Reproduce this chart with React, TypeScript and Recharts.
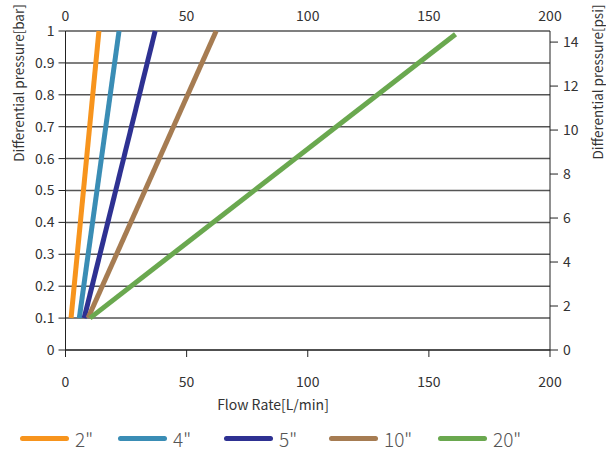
import React from 'react';
import { LineChart, Line, XAxis, YAxis, CartesianGrid, Legend } from 'recharts';

// filter sizes and their colours
const sizes = ['2"', '4"', '5"', '10"', '20"'];
const colors = ['#F7941D', '#3A8DB5', '#2E3192', '#A67C52', '#6AA84F'];

// flow rate [L/min] at start / end of each line
const flowStart = [2.3, 5.7, 7.7, 9.3, 10.1];
const flowEnd = [13.8, 22.1, 37, 62.2, 161];

// differential pressure [bar] at start / end
const pressureStart = [0.1, 0.1, 0.1, 0.1, 0.1];
const pressureEnd = [1, 1, 1, 1, 0.99];

const flowTicks = [0, 50, 100, 150, 200];
const barTicks = [0, 0.1, 0.2, 0.3, 0.4, 0.5, 0.6, 0.7, 0.8, 0.9, 1];
const psiTicks = [0, 2, 4, 6, 8, 10, 12, 14];

const PSI_PER_BAR = 14.5038;
const FONT = '"Noto Sans CJK SC", "Noto Sans", sans-serif';
const TEXT = '#333';

const seriesData = sizes.map((s, i) => [
  { flow: flowStart[i], bar: pressureStart[i], psi: pressureStart[i] * PSI_PER_BAR },
  { flow: flowEnd[i], bar: pressureEnd[i], psi: pressureEnd[i] * PSI_PER_BAR },
]);

const legendLeft = [20, 118, 224, 329, 438];

const renderLegend = () => (
  <div style={{ position: 'relative', width: 606, height: 30, fontFamily: FONT }}>
    {sizes.map((s, i) => (
      <div key={s} style={{ position: 'absolute', left: legendLeft[i], top: 0, height: 30, display: 'flex', alignItems: 'center' }}>
        <span style={{ display: 'inline-block', width: 49, height: 5, borderRadius: 3, background: colors[i], marginRight: 6 }} />
        <span style={{ fontSize: 19, color: '#555', fontWeight: 300 }}>{s}</span>
      </div>
    ))}
  </div>
);

const tickStyle = { fontSize: 14, fill: TEXT, fontFamily: FONT };

const App = () => {
  return (
    <div style={{ position: 'absolute', left: 0, top: 0, background: '#fff' }}>
      <LineChart width={606} height={456} margin={{ top: 0, right: 0, bottom: 0, left: 0 }}>
        <CartesianGrid vertical={false} stroke="#555" strokeWidth={1.5} yAxisId="bar" xAxisId="bottom" />
        <XAxis
          xAxisId="bottom"
          type="number"
          dataKey="flow"
          domain={[0, 200]}
          ticks={flowTicks}
          height={76}
          tickSize={7}
          tickMargin={20}
          stroke="#222"
          tick={tickStyle}
          label={{
            content: () => (
              <text x={273} y={410} textAnchor="middle" fontSize={14} fill={TEXT} fontFamily={FONT}>
                Flow Rate[L/min]
              </text>
            ),
          }}
        />
        <XAxis
          xAxisId="top"
          orientation="top"
          type="number"
          dataKey="flow"
          domain={[0, 200]}
          ticks={flowTicks}
          height={31}
          axisLine={false}
          tickLine={false}
          tickSize={0}
          tickMargin={10}
          tick={tickStyle}
        />
        <YAxis
          yAxisId="bar"
          type="number"
          dataKey="bar"
          domain={[0, 1]}
          ticks={barTicks}
          width={65.5}
          tickSize={7}
          tickMargin={4}
          stroke="#222"
          tick={tickStyle}
          label={{
            content: () => (
              <text x={24} y={83} transform="rotate(-90 24 83)" textAnchor="middle" fontSize={13.5} fill={TEXT} fontFamily={FONT}>
                Differential pressure[bar]
              </text>
            ),
          }}
        />
        <YAxis
          yAxisId="psi"
          orientation="right"
          type="number"
          dataKey="psi"
          domain={[0, PSI_PER_BAR]}
          ticks={psiTicks}
          width={56}
          tickSize={8}
          tickMargin={5}
          stroke="#222"
          tick={tickStyle}
          label={{
            content: () => (
              <text x={603} y={82} transform="rotate(-90 603 82)" textAnchor="middle" fontSize={13.5} fill={TEXT} fontFamily={FONT}>
                Differential pressure[psi]
              </text>
            ),
          }}
        />
        {sizes.map((s, i) => (
          <Line
            key={s}
            name={s}
            data={seriesData[i]}
            dataKey="bar"
            xAxisId="bottom"
            yAxisId="bar"
            stroke={colors[i]}
            strokeWidth={5}
            dot={false}
            isAnimationActive={false}
          />
        ))}
        {/* same values on the psi / top axes, drawn invisible so those axes render */}
        <Line
          data={seriesData[4]}
          dataKey="psi"
          xAxisId="top"
          yAxisId="psi"
          stroke="none"
          dot={false}
          legendType="none"
          isAnimationActive={false}
        />
        <Legend
          verticalAlign="bottom"
          content={renderLegend}
          wrapperStyle={{ height: 30, left: 0, top: 423, width: 606 }}
        />
      </LineChart>
    </div>
  );
};

export default App;
